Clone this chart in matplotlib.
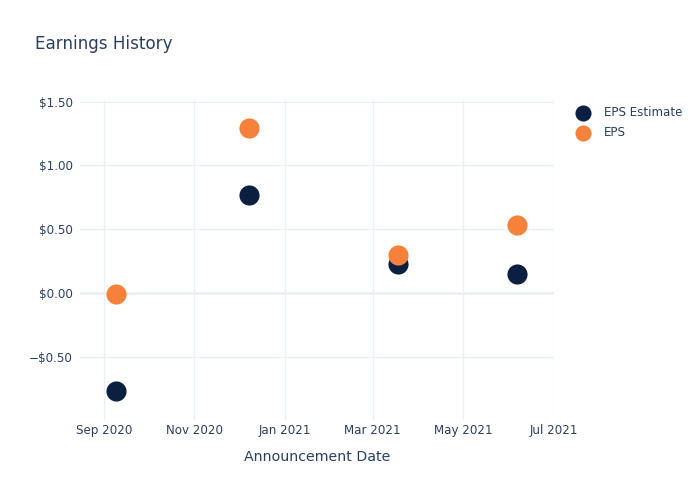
import matplotlib
matplotlib.use("Agg")
import matplotlib.pyplot as plt
import matplotlib.dates as mdates
from matplotlib.ticker import FuncFormatter
import numpy as np
import datetime as dt

dates = ["2020-09-09", "2020-12-08", "2021-03-18", "2021-06-06"]
eps_estimate = [-0.77, 0.77, 0.23, 0.15]
eps_actual = [-0.01, 1.29, 0.30, 0.53]
series_names = ["EPS Estimate", "EPS"]

x = [dt.datetime.strptime(d, "%Y-%m-%d") for d in dates]

TEXT = "#2a3f5f"
GRID = "#ebf0f8"
NAVY = "#0b1f41"
ORANGE = "#f5813a"

fig = plt.figure(figsize=(7, 5), dpi=100)
ax = fig.add_axes([80/700, 1-420/500, (554-80)/700, (420-100)/500])

ax.scatter(x, eps_estimate, s=210, color=NAVY, zorder=3, linewidths=0, label=series_names[0])
ax.scatter(x, eps_actual, s=210, color=ORANGE, zorder=4, linewidths=0, label=series_names[1])

ax.set_xlim(dt.datetime(2020, 8, 16), dt.datetime(2021, 7, 1))
ax.set_ylim(-0.995, 1.513)

ax.xaxis.set_major_locator(mdates.MonthLocator(bymonth=[1, 3, 5, 7, 9, 11]))
ax.xaxis.set_major_formatter(mdates.DateFormatter("%b %Y"))
ax.set_yticks([-0.5, 0, 0.5, 1.0, 1.5])

def fmt(v, pos):
    s = f"${abs(v):.2f}"
    return ("\u2212" + s) if v < 0 else s
ax.yaxis.set_major_formatter(FuncFormatter(fmt))

for sp in ax.spines.values():
    sp.set_visible(False)
ax.grid(True, color=GRID, linewidth=1, zorder=0)
ax.axhline(0, color=GRID, linewidth=2, zorder=1)
ax.set_axisbelow(True)
ax.tick_params(axis="both", length=0, colors=TEXT, labelsize=8.6)
ax.tick_params(axis="x", pad=3)
ax.tick_params(axis="y", pad=5)

ax.set_xlabel("Announcement Date", color=TEXT, fontsize=10.2, labelpad=9)

fig.text(35/700, 1-44/500, "Earnings History", color=TEXT, fontsize=12.1, va="center", ha="left")

leg = ax.legend(loc="upper left", bbox_to_anchor=(566/700, 1-101/500), bbox_transform=fig.transFigure,
                frameon=False, fontsize=8.6, labelcolor=TEXT, handletextpad=0.75,
                labelspacing=0.62, borderaxespad=0, markerscale=0.8)

fig.savefig("out.png", dpi=100)
